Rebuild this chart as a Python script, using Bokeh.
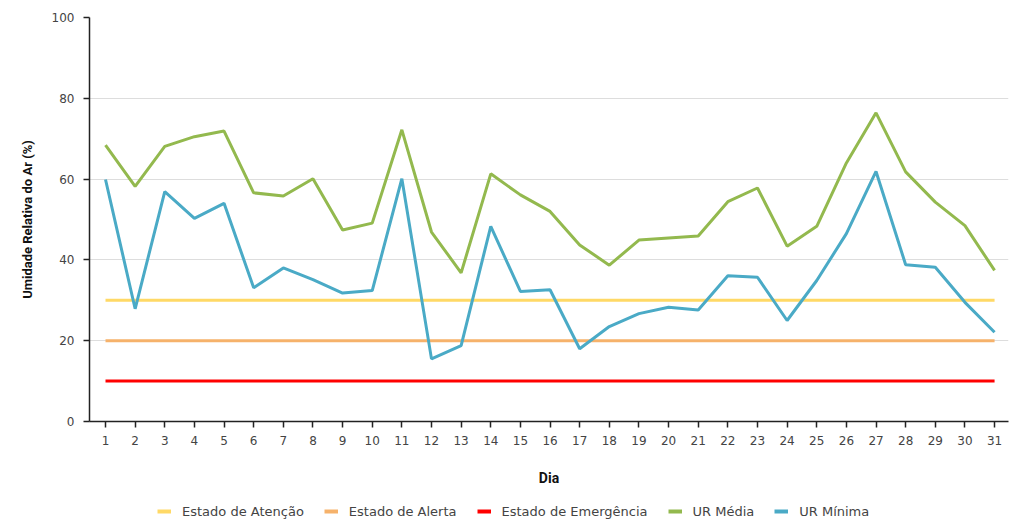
from bokeh.plotting import figure
from bokeh.layouts import column
from bokeh.models import Range1d, FixedTicker, Legend, LegendItem
from bokeh.embed import file_html
from bokeh.resources import INLINE

# Daily relative humidity (%) for one month
dias = list(range(1, 32))
ur_media = [68.4, 58.2, 68.1, 70.5, 71.9, 56.6, 55.8, 60.1, 47.4, 49.1,
            72.2, 46.9, 36.8, 61.3, 56.1, 52.0, 43.7, 38.7, 44.9, 45.4,
            45.9, 54.4, 57.8, 43.4, 48.3, 64.0, 76.4, 61.8, 54.3, 48.5, 37.4]
ur_minima = [59.9, 27.9, 56.9, 50.3, 54.0, 33.1, 38.0, 35.1, 31.8, 32.4,
             60.1, 15.5, 18.8, 48.3, 32.2, 32.6, 18.0, 23.5, 26.7, 28.3,
             27.6, 36.1, 35.7, 25.0, 34.9, 46.5, 61.9, 38.8, 38.2, 29.5, 22.1]

# Alert thresholds
limite_atencao = 30
limite_alerta = 20
limite_emergencia = 10

y_ticks = [0, 20, 40, 60, 80, 100]

series = [
    ("Estado de Atenção", "#ffd966"),
    ("Estado de Alerta", "#f6b26b"),
    ("Estado de Emergência", "#ff0000"),
    ("UR Média", "#93b94e"),
    ("UR Mínima", "#4aaac6"),
]

FONT_TITULO = "Roboto"
FONT_TEXTO = "DejaVu Sans"

p = figure(width=1010, height=491, output_backend="svg", toolbar_location=None,
           x_range=Range1d(0.46, 31.47), y_range=Range1d(0, 100),
           min_border_left=89, min_border_right=2, min_border_top=17,
           min_border_bottom=70)
p.outline_line_color = None
p.background_fill_color = "white"
p.border_fill_color = "white"

valores = [
    [limite_atencao] * len(dias),
    [limite_alerta] * len(dias),
    [limite_emergencia] * len(dias),
    ur_media,
    ur_minima,
]
for (nome, cor), ys in zip(series, valores):
    p.line(dias, ys, line_color=cor, line_width=3)

# Axes
p.xaxis.ticker = FixedTicker(ticks=dias)
p.yaxis.ticker = FixedTicker(ticks=y_ticks)
for ax in (p.xaxis[0], p.yaxis[0]):
    ax.axis_line_color = "#222222"
    ax.axis_line_width = 1.5
    ax.major_tick_line_color = "#222222"
    ax.major_tick_line_width = 1.5
    ax.major_tick_out = 6
    ax.major_tick_in = 0
    ax.minor_tick_line_color = None
    ax.major_label_text_font = FONT_TEXTO
    ax.major_label_text_font_size = "12px"
    ax.major_label_text_color = "#444444"
    ax.axis_label_text_font = FONT_TITULO
    ax.axis_label_text_font_style = "bold"
    ax.axis_label_text_color = "#111111"
p.xaxis.major_label_standoff = 8
p.yaxis.major_label_standoff = 9

p.yaxis.axis_label = "Umidade Relativa do Ar (%)"
p.yaxis.axis_label_text_font_size = "13px"
p.yaxis.axis_label_standoff = 14

p.xaxis.axis_label = "Dia"
p.xaxis.axis_label_text_font_size = "14px"
p.xaxis.axis_label_standoff = 22

p.xgrid.grid_line_color = None
p.ygrid.grid_line_color = "#dddddd"
p.ygrid.grid_line_width = 1

# Legend strip underneath the chart
leg = figure(width=1010, height=30, output_backend="svg", toolbar_location=None,
             x_range=Range1d(0, 1), y_range=Range1d(0, 1),
             min_border=0, min_border_left=0, min_border_right=0,
             min_border_top=0, min_border_bottom=0)
leg.axis.visible = False
leg.grid.visible = False
leg.outline_line_color = None
itens = []
for nome, cor in series:
    # off-range sample so only the legend swatch shows
    r = leg.line([5, 6], [5, 6], line_color=cor, line_width=4)
    itens.append(LegendItem(label=nome, renderers=[r]))

legend = Legend(items=itens, orientation="horizontal", location=(68, 0))
legend.padding = 0
legend.margin = 0
legend.spacing = 20
legend.glyph_width = 14
legend.glyph_height = 20
legend.label_height = 20
legend.label_standoff = 11
legend.label_text_font = FONT_TEXTO
legend.label_text_font_size = "13px"
legend.label_text_color = "#444444"
legend.border_line_color = None
legend.background_fill_alpha = 0
leg.add_layout(legend)

layout = column(p, leg, spacing=0)
open("out.html", "w").write(file_html(layout, INLINE))
